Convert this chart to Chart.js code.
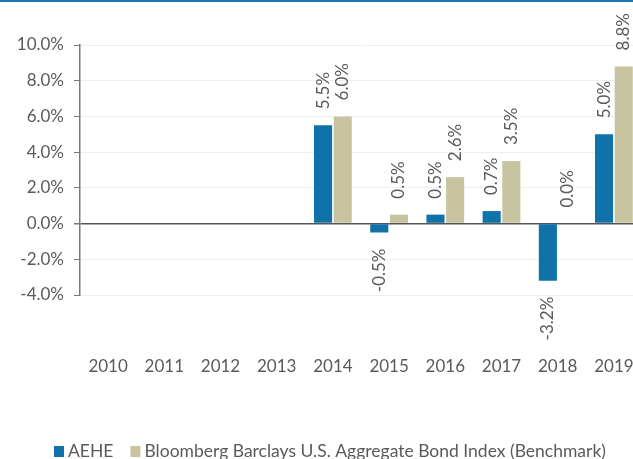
<!DOCTYPE html>
<html>
<head>
<meta charset="utf-8">
<script src="https://cdn.jsdelivr.net/npm/chart.js@4"></script>
<style>
  html, body { margin: 0; padding: 0; background: #fff; }
  #frame { position: relative; width: 633px; height: 459px; overflow: hidden; }
  #topRule { position: absolute; left: 0; top: 0; width: 633px; height: 2px; background: #1e76b3; z-index: 2; }
  #c { position: absolute; left: 0; top: 0; }
</style>
</head>
<body>
<div id="frame">
  <div id="topRule"></div>
  <canvas id="c" width="662" height="459"></canvas>
</div>
<script>
// Calendar-year returns (%)
const years = ['2010', '2011', '2012', '2013', '2014', '2015', '2016', '2017', '2018', '2019'];
const aeheReturns = [null, null, null, null, 5.5, -0.5, 0.5, 0.7, -3.2, 5.0];
const benchmarkReturns = [null, null, null, null, 6.0, 0.5, 2.6, 3.5, 0.0, 8.8];
const seriesNames = ['AEHE', 'Bloomberg Barclays U.S. Aggregate Bond Index (Benchmark)'];
const seriesColors = ['#0f72a9', '#c9c4a0'];
const yTicks = [-4, -2, 0, 2, 4, 6, 8, 10];

const FONT = 'Lato, "Open Sans", sans-serif';
const TEXT = '#5a5a5a';

// Rotated value labels above positive bars and below negative ones
const barValueLabels = {
  id: 'barValueLabels',
  afterDatasetsDraw(chart) {
    const ctx = chart.ctx;
    ctx.save();
    ctx.font = '17px ' + FONT;
    ctx.fillStyle = TEXT;
    ctx.textBaseline = 'middle';
    chart.data.datasets.forEach((ds, i) => {
      const meta = chart.getDatasetMeta(i);
      meta.data.forEach((bar, j) => {
        const v = ds.data[j];
        if (v === null || v === undefined) return;
        ctx.save();
        ctx.translate(bar.x, v >= 0 ? bar.y - 16 : bar.y + 16);
        ctx.rotate(-Math.PI / 2);
        ctx.textAlign = v >= 0 ? 'left' : 'right';
        ctx.fillText(v.toFixed(1) + '%', 0, 0);
        ctx.restore();
      });
    });
    ctx.restore();
  }
};

// Legend row along the bottom edge
const bottomLegend = {
  id: 'bottomLegend',
  afterDraw(chart) {
    const ctx = chart.ctx;
    const centerX = 330, midY = 451, box = 10, boxGap = 4, itemGap = 17;
    ctx.save();
    ctx.font = '17.5px ' + FONT;
    ctx.textBaseline = 'middle';
    const widths = seriesNames.map(n => ctx.measureText(n).width);
    const total = widths.reduce((a, w) => a + box + boxGap + w, 0) + itemGap * (seriesNames.length - 1);
    let x = centerX - total / 2;
    seriesNames.forEach((name, i) => {
      ctx.fillStyle = seriesColors[i];
      ctx.fillRect(x, midY - box / 2, box, box + 1);
      x += box + boxGap;
      ctx.fillStyle = TEXT;
      ctx.textAlign = 'left';
      ctx.fillText(name, x, midY);
      x += widths[i] + itemGap;
    });
    ctx.restore();
  }
};

new Chart(document.getElementById('c'), {
  type: 'bar',
  data: {
    labels: years,
    datasets: [
      { label: seriesNames[0], data: aeheReturns, backgroundColor: seriesColors[0] },
      { label: seriesNames[1], data: benchmarkReturns, backgroundColor: seriesColors[1] }
    ]
  },
  options: {
    responsive: false,
    animation: false,
    devicePixelRatio: 1,
    layout: { padding: { top: 45, right: 20, bottom: 0, left: 0 } },
    datasets: { bar: { categoryPercentage: 0.7, barPercentage: 0.92 } },
    plugins: {
      tooltip: { enabled: false },
      legend: { display: false }
    },
    scales: {
      x: {
        afterFit: s => { s.height = 164; },
        // invisible tick marks push the year labels well below the plot
        grid: { display: true, drawOnChartArea: false, drawTicks: true, tickLength: 57, tickColor: 'rgba(0,0,0,0)' },
        border: { display: false },
        ticks: { font: { family: FONT, size: 17 }, color: TEXT, padding: 4, maxRotation: 0 }
      },
      y: {
        min: -4,
        max: 10,
        afterFit: s => { s.width = 80; },
        afterBuildTicks: s => { s.ticks = yTicks.map(v => ({ value: v })); },
        border: { display: true, color: '#7a7a7a', width: 1.5 },
        grid: {
          color: c => (c.tick && c.tick.value === 0 ? '#555555' : '#efefef'),
          lineWidth: c => (c.tick && c.tick.value === 0 ? 1.5 : 1),
          tickColor: '#7a7a7a',
          tickLength: 6
        },
        ticks: {
          font: { family: FONT, size: 17 },
          color: TEXT,
          padding: 10,
          callback: v => v.toFixed(1) + '%'
        }
      }
    }
  },
  plugins: [barValueLabels, bottomLegend]
});
</script>
</body>
</html>
